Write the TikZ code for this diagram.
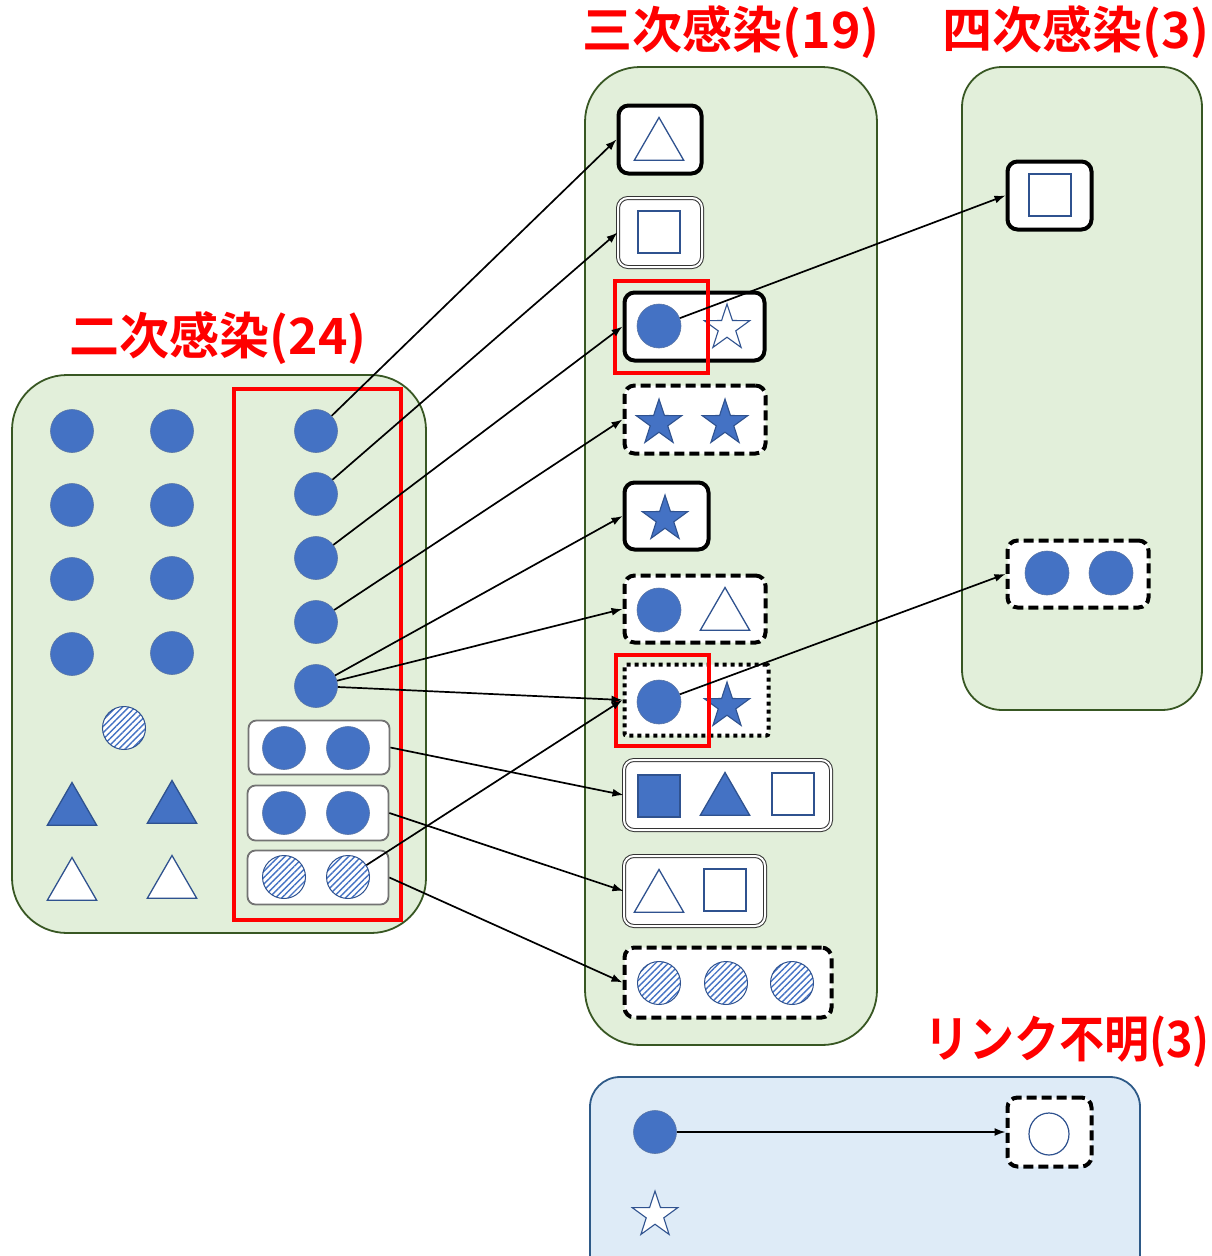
\documentclass[tikz,border=0pt]{standalone}
\usepackage{fontspec}
\newfontfamily\jpfont{Noto Sans CJK JP}[BoldFont={* Bold}]
\newfontfamily\jpnarrow{Noto Sans CJK JP}[BoldFont={* Bold},FakeStretch=0.9]
\usetikzlibrary{shapes.geometric,arrows.meta,patterns.meta}
\definecolor{fillblue}{HTML}{4472C4}
\definecolor{lineblue}{HTML}{2F528F}
\definecolor{panelgreen}{HTML}{E2EFDA}
\definecolor{panelgreenline}{HTML}{385723}
\definecolor{panelblue}{HTML}{DEEBF7}
\definecolor{panelblueline}{HTML}{2E5A88}
\begin{document}
\begin{tikzpicture}[
  x=1pt,
  y=-1pt,
  inner sep=0pt,
  panel/.style={
    draw=panelgreenline,
    fill=panelgreen,
    line width=1.8pt,
    rounded corners=55pt
  },
  title/.style={
    font=\jpfont\bfseries\fontsize{50}{50}\selectfont,
    text=red
  },
  dot/.style={
    circle,
    fill=fillblue,
    draw=lineblue!80,
    line width=0.6pt,
    minimum size=43pt
  },
  hatched/.style={
    circle,
    draw=lineblue,
    line width=1pt,
    minimum size=43pt,
    preaction={fill=white},
    pattern={Lines[angle=45,distance=4.5pt,line width=1.4pt]},
    pattern color=fillblue
  },
  tri/.style={
    regular polygon,
    regular polygon sides=3,
    minimum size=57pt,
    yshift=-7pt,
    draw=lineblue,
    line width=1.3pt,
    fill=white
  },
  sq/.style={
    rectangle,
    minimum size=42pt,
    draw=lineblue,
    line width=1.3pt,
    fill=white
  },
  starshape/.style={
    star,
    star points=5,
    star point ratio=2.6,
    minimum size=48pt,
    yshift=-2pt,
    draw=lineblue,
    line width=1.1pt,
    fill=white
  },
  full/.style={
    fill=fillblue
  },
  box/.style={
    rectangle,
    rounded corners=10pt,
    fill=white,
    draw=black,
    line width=4pt
  },
  dashbox/.style={
    box,
    dash pattern=on 10pt off 5pt
  },
  dotbox/.style={
    box,
    rounded corners=2pt,
    dash pattern=on 4pt off 4pt
  },
  dbox/.style={
    rectangle,
    rounded corners=10pt,
    fill=white,
    draw=black!80,
    double=white,
    double distance=2pt,
    line width=1pt
  },
  pairbox/.style={
    rectangle,
    rounded corners=8pt,
    fill=white,
    draw=black!55,
    line width=1.8pt
  },
  redbox/.style={
    draw=red,
    line width=4.5pt
  },
  a/.style={
    -{Latex[length=11pt,width=8pt]},
    line width=1.7pt
  }
  ]

  \useasboundingbox (0,0) rectangle (1211,1256);

  % panels
  \draw [panel] (12,375) rectangle (426,933);
  \draw [panel] (585,67) rectangle (877,1045);
  \draw [panel,rounded corners=40pt] (962,67) rectangle (1202,710);
  \draw [panel,draw=panelblueline,fill=panelblue,rounded corners=30pt] (590,1077) rectangle (1140,1290);

  \node (title-2) [title] at (218,338) {二次感染(24)};
  \node (title-3) [title] at (731,32) {三次感染(19)};
  \node (title-4) [title,anchor=east] at (1210,32) {四次感染(3)};
  \node (title-u) [title,font=\jpnarrow\bfseries\fontsize{50}{50}\selectfont,anchor=east] at (1210,1042) {リンク不明(3)};

  % second infection
  \node (s-1) [dot] at (72,431) {};
  \node (s-2) [dot] at (72,505) {};
  \node (s-3) [dot] at (72,579) {};
  \node (s-4) [dot] at (72,654) {};
  \node (s-5) [dot] at (172,431) {};
  \node (s-6) [dot] at (172,505) {};
  \node (s-7) [dot] at (172,578) {};
  \node (s-8) [dot] at (172,653) {};
  \node (s-9) [hatched] at (124,728) {};
  \node (s-10) [tri,full] at (72,804) {};
  \node (s-11) [tri,full] at (172,802) {};
  \node (s-12) [tri] at (72,879) {};
  \node (s-13) [tri] at (172,877) {};

  \node (c-1) [dot] at (316,431) {};
  \node (c-2) [dot] at (316,494) {};
  \node (c-3) [dot] at (316,558) {};
  \node (c-4) [dot] at (316,622) {};
  \node (c-5) [dot] at (316,686) {};
  \node (p1) [pairbox,minimum width=141pt,minimum height=54pt] at (319,747.5) {};
  \node (p1-a) [dot] at (284,748) {};
  \node (p1-b) [dot] at (348,748) {};
  \node (p2) [pairbox,minimum width=141pt,minimum height=55pt] at (318,813) {};
  \node (p2-a) [dot] at (284,813) {};
  \node (p2-b) [dot] at (348,813) {};
  \node (p3) [pairbox,minimum width=141pt,minimum height=54pt] at (318,877.5) {};
  \node (p3-a) [hatched] at (284,877) {};
  \node (p3-b) [hatched] at (348,877) {};

  % third infection
  \node (t1) [box,minimum width=83pt,minimum height=68pt] at (660,139.5) {};
  \node (t1-a) [tri] at (659,139) {};
  \node (t2) [dbox,minimum width=84pt,minimum height=69pt] at (660,232.5) {};
  \node (t2-a) [sq] at (659,232) {};
  \node (t3) [box,minimum width=140pt,minimum height=68pt] at (694.5,326.5) {};
  \node (t3-dot) [dot,minimum size=44pt] at (659,326) {};
  \node (t3-b) [starshape] at (727,326) {};
  \node (t4) [dashbox,minimum width=141pt,minimum height=68pt] at (695,419.5) {};
  \node (t4-a) [starshape,full] at (659,421) {};
  \node (t4-b) [starshape,full] at (725,421) {};
  \node (t5) [box,minimum width=84pt,minimum height=67pt] at (666.5,516) {};
  \node (t5-a) [starshape,full] at (665,517) {};
  \node (t6) [dashbox,minimum width=141pt,minimum height=67pt] at (695,609) {};
  \node (t6-dot) [dot,minimum size=44pt] at (659,610) {};
  \node (t6-b) [tri] at (725,609) {};
  \node (t7) [dotbox,minimum width=144pt,minimum height=71pt] at (696.5,700) {};
  \node (t7-dot) [dot,minimum size=44pt] at (659,702) {};
  \node (t7-b) [starshape,full] at (727,704) {};
  \node (t8) [dbox,minimum width=207pt,minimum height=70pt] at (727.5,795) {};
  \node (t8-a) [sq,full] at (659,796) {};
  \node (t8-b) [tri,full] at (725,794) {};
  \node (t8-c) [sq] at (793,794) {};
  \node (t9) [dbox,minimum width=141pt,minimum height=70pt] at (694.5,891) {};
  \node (t9-a) [tri] at (659,891) {};
  \node (t9-b) [sq] at (725,890) {};
  \node (t10) [dashbox,minimum width=207pt,minimum height=70pt] at (728,982.5) {};
  \node (t10-a) [hatched] at (659,983) {};
  \node (t10-b) [hatched] at (726,983) {};
  \node (t10-c) [hatched] at (792,983) {};

  % fourth infection
  \node (q1) [box,minimum width=84pt,minimum height=68pt] at (1049.5,195.5) {};
  \node (q1-a) [sq] at (1050,195) {};
  \node (q2) [dashbox,minimum width=141pt,minimum height=67pt] at (1078,574) {};
  \node (q2-a) [dot,minimum size=44pt] at (1047,573) {};
  \node (q2-b) [dot,minimum size=44pt] at (1111,573) {};

  % link unknown
  \node (u-dot) [dot] at (655,1132) {};
  \node (u-star) [starshape] at (655,1213) {};
  \node (u1) [dashbox,minimum width=84pt,minimum height=69pt] at (1049.5,1132) {};
  \node (u1-a) [ellipse,draw=lineblue,line width=1.2pt,minimum width=40pt,minimum height=42pt] at (1049,1134) {};

  \draw [redbox] (234,389) rectangle (401,920);
  \draw [redbox] (615,281) rectangle (708,373);
  \draw [redbox] (616,655) rectangle (709,746);

  \draw [a] (c-1) to (t1.west);
  \draw [a] (c-2) to (t2.west);
  \draw [a] (c-3) to (t3.west);
  \draw [a] (c-4) to (t4.west);
  \draw [a] (c-5) to (t5.west);
  \draw [a] (c-5) to (t6.west);
  \draw [a] (c-5) to (t7.west);
  \draw [a] (p1.east) to (t8.west);
  \draw [a] (p2.east) to (t9.west);
  \draw [a] (p3-b) to (t7.west);
  \draw [a] (p3.east) to (t10.west);
  \draw [a] (t3-dot) to (q1.west);
  \draw [a] (t7-dot) to (q2.west);
  \draw [a] (u-dot) to (u1.west);
\end{tikzpicture}
\end{document}
